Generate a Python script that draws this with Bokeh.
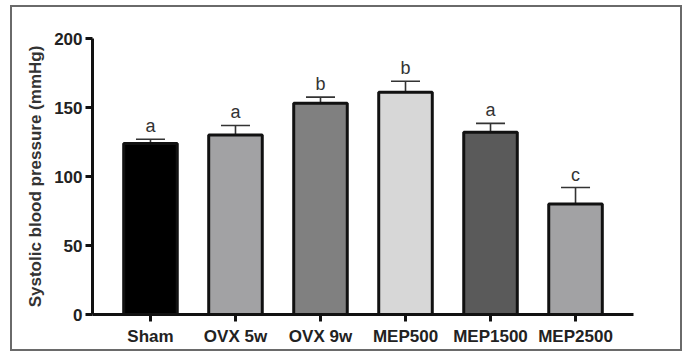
from bokeh.plotting import figure
from bokeh.models import (ColumnDataSource, FactorRange, Range1d, Whisker, TeeHead,
                          FixedTicker, InlineStyleSheet)
from bokeh.core.properties import value
from bokeh.embed import file_html
from bokeh.resources import INLINE

groups = ["Sham", "OVX 5w", "OVX 9w", "MEP500", "MEP1500", "MEP2500"]
means = [124, 130, 153, 161, 132, 80]
err_top = [127, 137, 157.5, 169, 138.5, 92]
letters = ["a", "a", "b", "b", "a", "c"]
colors = ["#000000", "#a2a2a4", "#808080", "#d7d7d7", "#5a5a5a", "#a2a2a4"]
y_ticks = [0, 50, 100, 150, 200]

src = ColumnDataSource(dict(g=groups, m=means, e=err_top, t=letters, c=colors))

frame_css = InlineStyleSheet(css="""
:host::after {
  content: "";
  position: absolute;
  left: 10px; top: 5px; width: 672px; height: 346px;
  border: 2px solid #6a6a6a;
  box-sizing: border-box;
  pointer-events: none;
  z-index: 100;
}
""")

p = figure(width=688, height=352, output_backend="svg", toolbar_location=None,
           x_range=FactorRange(factors=groups, range_padding=0.182,
                               range_padding_units="absolute"),
           y_range=Range1d(0, 200),
           min_border_left=92, min_border_right=55, min_border_top=38,
           min_border_bottom=38, stylesheets=[frame_css])

p.vbar(x="g", top="m", bottom=0, width=0.63, source=src, fill_color="c",
       line_color="#111111", line_width=3)

w = Whisker(source=src, base="g", upper="e", lower="m", dimension="height",
            line_color="#333333", line_width=1.6,
            upper_head=TeeHead(size=29, line_color="#333333", line_width=1.6),
            lower_head=None)
p.add_layout(w)

p.text(x="g", y="e", text="t", source=src, text_align="center",
       text_baseline="bottom", y_offset=-3, text_font=value("Liberation Sans"),
       text_font_size="18px", text_color="#333333")

p.grid.visible = False
p.outline_line_color = None

for ax in (p.xaxis[0], p.yaxis[0]):
    ax.axis_line_width = 3
    ax.axis_line_color = "#111111"
    ax.major_tick_line_width = 3
    ax.major_tick_line_color = "#111111"
    ax.major_tick_out = 7
    ax.major_tick_in = 0
    ax.minor_tick_line_color = None
    ax.major_label_text_font = "Liberation Sans"
    ax.major_label_text_font_style = "bold"
    ax.major_label_text_font_size = "17px"
    ax.major_label_text_color = "#222222"

p.yaxis.ticker = FixedTicker(ticks=y_ticks)
p.yaxis.major_label_standoff = 3
p.yaxis.axis_label = "Systolic blood pressure (mmHg)"
p.yaxis.axis_label_text_font = "Liberation Sans"
p.yaxis.axis_label_text_font_style = "bold"
p.yaxis.axis_label_text_font_size = "17px"
p.yaxis.axis_label_text_color = "#333333"
p.yaxis.axis_label_standoff = 6
p.xaxis.major_label_standoff = 5

open("out.html", "w").write(file_html(p, INLINE))
